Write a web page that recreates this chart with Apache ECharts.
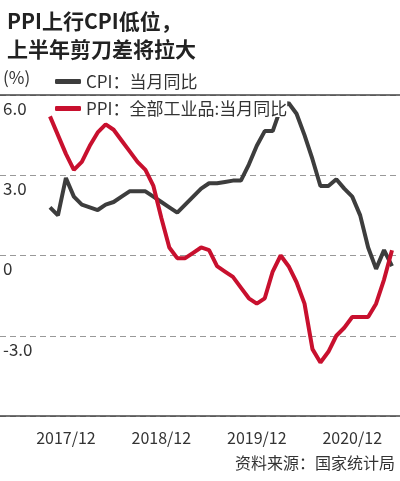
<!DOCTYPE html>
<html>
<head>
<meta charset="utf-8">
<script src="https://cdn.jsdelivr.net/npm/echarts@6/dist/echarts.min.js"></script>
<style>
html,body{margin:0;padding:0;background:#fff;}
#chartDiv{width:400px;height:481px;}
</style>
</head>
<body>
<div id="chartDiv"></div>
<script>
// 月份
var months = ['2017/10','2017/11','2017/12','2018/01','2018/02','2018/03','2018/04','2018/05','2018/06','2018/07','2018/08','2018/09',
    '2018/10','2018/11','2018/12','2019/01','2019/02','2019/03','2019/04','2019/05','2019/06','2019/07','2019/08','2019/09',
    '2019/10','2019/11','2019/12','2020/01','2020/02','2020/03','2020/04','2020/05','2020/06','2020/07','2020/08','2020/09',
    '2020/10','2020/11','2020/12','2021/01','2021/02','2021/03','2021/04','2021/05'];
var xTickLabels = ['2017/12','2018/12','2019/12','2020/12'];
// CPI 当月同比
var cpiValues = [1.8,1.5,2.9,2.2,1.9,1.8,1.7,1.9,2.0,2.2,2.4,2.4,
    2.4,2.2,2.0,1.8,1.6,1.9,2.2,2.5,2.7,2.7,2.75,2.8,
    2.8,3.4,4.1,4.65,4.65,5.5,5.7,5.3,4.5,3.6,2.6,2.6,
    2.85,2.5,2.2,1.5,0.3,-0.5,0.2,-0.4];
// PPI 全部工业品 当月同比
var ppiValues = [5.2,4.5,3.8,3.2,3.5,4.1,4.6,4.9,4.7,4.3,3.9,3.5,
    3.2,2.6,1.4,0.3,-0.1,-0.1,0.1,0.3,0.2,-0.4,-0.6,-0.8,
    -1.2,-1.6,-1.8,-1.6,-0.6,0,-0.4,-1.0,-1.8,-3.5,-4.0,-3.6,
    -3.0,-2.7,-2.3,-2.3,-2.3,-1.8,-0.9,0.2];
var yTickLabels = {'6': '6.0', '3': '3.0', '0': '0', '-3': '-3.0'};

var myChart = echarts.init(document.getElementById('chartDiv'));
var font = 'Noto Sans CJK SC';
var option = {
    animation: false,
    textStyle: {fontFamily: font},
    title: {
        text: 'PPI上行CPI低位，\n上半年剪刀差将拉大',
        left: 2, top: 2,
        textStyle: {fontSize: 21, fontWeight: 'bold', color: '#222', lineHeight: 28, fontFamily: font}
    },
    legend: {
        orient: 'vertical', left: 50, top: 68, itemGap: 10,
        itemWidth: 26, itemHeight: 5, icon: 'roundRect',
        textStyle: {fontSize: 17, color: '#333', backgroundColor: '#fff', fontFamily: font},
        data: ['CPI：当月同比', 'PPI：全部工业品:当月同比']
    },
    graphic: [
        {type: 'text', left: 3, top: 69, style: {text: '(%)', fontSize: 17, fill: '#333', fontFamily: font}},
        {type: 'text', right: 5, top: 455, style: {text: '资料来源：国家统计局', fontSize: 16, fill: '#333', fontFamily: font}}
    ],
    grid: [
        {left: 0, right: 0, top: 95, bottom: 65},
        {left: 50, right: 8, top: 95, bottom: 65}
    ],
    xAxis: [
        {gridIndex: 0, type: 'value', position: 'top', axisLine: {onZero: false, lineStyle: {color: '#444', width: 1.5}}, axisTick: {show: false}, axisLabel: {show: false}, splitLine: {show: false}},
        {gridIndex: 0, type: 'value', position: 'bottom', axisLine: {onZero: false, lineStyle: {color: '#444', width: 1.5}}, axisTick: {show: false}, axisLabel: {show: false}, splitLine: {show: false}},
        {
            gridIndex: 1, type: 'category', data: months, boundaryGap: false,
            axisLine: {show: false}, axisTick: {show: false},
            axisLabel: {
                margin: 14, fontSize: 16, color: '#333',
                interval: function (i, v) { return xTickLabels.indexOf(v) >= 0; }
            },
            splitLine: {show: false}
        }
    ],
    yAxis: [
        {
            gridIndex: 0, type: 'value', min: -6, max: 6, interval: 3,
            axisLine: {show: false}, axisTick: {show: false},
            axisLabel: {
                inside: true, margin: 3, fontSize: 17, color: '#333',
                verticalAlign: 'top', padding: [5, 0, 0, 0],
                formatter: function (v) { return yTickLabels[String(v)] || ''; }
            },
            splitLine: {lineStyle: {type: [6, 4], color: '#999', width: 1}}
        },
        {gridIndex: 1, type: 'value', min: -6, max: 6, show: false, splitLine: {show: false}}
    ],
    series: [
        {
            name: 'CPI：当月同比', type: 'line', xAxisIndex: 2, yAxisIndex: 1,
            data: cpiValues, symbol: 'none', color: '#3d3d3d',
            lineStyle: {width: 4, color: '#3d3d3d'}, z: 3
        },
        {
            name: 'PPI：全部工业品:当月同比', type: 'line', xAxisIndex: 2, yAxisIndex: 1,
            data: ppiValues, symbol: 'none', color: '#c8102e',
            lineStyle: {width: 4, color: '#c8102e'}, z: 4
        }
    ]
};
myChart.setOption(option);
</script>
</body>
</html>
